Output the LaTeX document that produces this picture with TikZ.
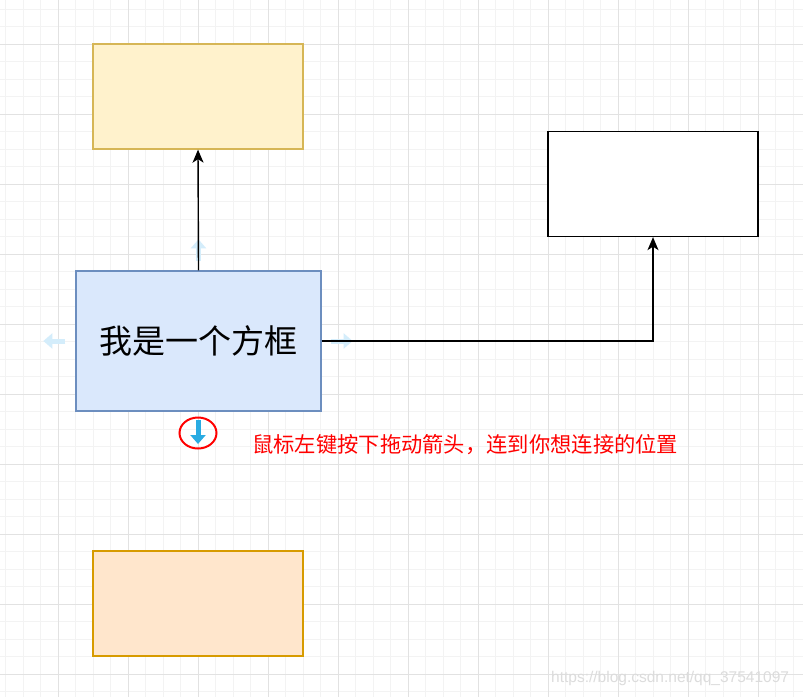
\documentclass[tikz,border=0pt]{standalone}
\usepackage{fontspec}
\usepackage{tikz}
\usetikzlibrary{positioning,calc,arrows.meta,shapes.geometric}
\newfontfamily\cjk{Noto Sans CJK SC}
\newfontfamily\wmfont{Liberation Sans}
\definecolor{GridMinor}{HTML}{F3F3F3}
\definecolor{GridMajor}{HTML}{E2E2E2}
\definecolor{YellowFill}{HTML}{FFF2CC}
\definecolor{YellowLine}{HTML}{D6B656}
\definecolor{BlueFill}{HTML}{DAE8FC}
\definecolor{BlueLine}{HTML}{6C8EBF}
\definecolor{OrangeFill}{HTML}{FFE6CC}
\definecolor{OrangeLine}{HTML}{D79B00}
\definecolor{HintBlue}{HTML}{D4EDFB}
\definecolor{HandleBlue}{HTML}{29ABE2}
\definecolor{Mark}{HTML}{FF0000}
\definecolor{Stamp}{HTML}{DCDCDC}
\tikzset{
	shapebox/.style={line width=1.3pt, inner sep=0pt, minimum width=210pt, minimum height=105pt},
	link/.style={line width=1.4pt, -{Stealth[length=13pt,width=11pt,inset=3.5pt]}},
	hint/.style={HintBlue, line width=5pt, -{Triangle[length=9pt,width=15pt]}}
}

\begin{document}
\begin{tikzpicture}[x=1pt,y=-1pt]
	\useasboundingbox (0,0) rectangle (803,697);
	\fill[white] (0,0) rectangle (803,697);
	% grid
	\foreach \gx in {5.5,23,...,803} \draw[GridMinor, line width=0.8pt] (\gx,0) -- (\gx,697);
	\foreach \gy in {9,26.5,...,697} \draw[GridMinor, line width=0.8pt] (0,\gy) -- (803,\gy);
	\foreach \gx in {58,128,...,803} \draw[GridMajor, line width=0.8pt] (\gx,0) -- (\gx,697);
	\foreach \gy in {44,114,...,697} \draw[GridMajor, line width=0.8pt] (0,\gy) -- (803,\gy);
	
	% boxes
	\node[
	shapebox,
	draw=YellowLine,
	fill=YellowFill
	] (topbox) at (198,96.5) {};
	
	\node[
	shapebox,
	draw=BlueLine,
	fill=BlueFill,
	minimum width=245pt,
	minimum height=140pt
	] (mainbox) at (198.5,341) {\cjk\fontsize{33}{39}\selectfont 我是一个方框};
	
	\node[
	shapebox,
	draw=black,
	fill=white
	] (rightbox) at (653,184) {};
	
	\node[
	shapebox,
	draw=OrangeLine,
	fill=OrangeFill
	] (bottombox) at (198,603.5) {};
	
	% hover arrows
	\coordinate (upfrom) at ($(mainbox.north)+(0,-9)$);
	\coordinate (upto) at ($(mainbox.north)+(0,-31)$);
	\coordinate (leftfrom) at ($(mainbox.west)+(-10,0)$);
	\coordinate (leftto) at ($(mainbox.west)+(-32,0)$);
	\coordinate (rightfrom) at ($(mainbox.east)+(9,0)$);
	\coordinate (rightto) at ($(mainbox.east)+(31,0)$);
	\draw[hint] (upfrom) -- (upto);
	\draw[hint] (leftfrom) -- (leftto);
	\draw[hint] (rightfrom) -- (rightto);
	
	% connectors
	\draw[link] (mainbox.north) -- (topbox.south);
	\draw[link] (mainbox.east) -| (rightbox.south);
	
	% drag handle
	\node[
	ellipse,
	draw=Mark,
	line width=2pt,
	inner sep=0pt,
	minimum width=37pt,
	minimum height=31pt
	] (handle) at (198,433) {};
	\coordinate (handlefrom) at ($(handle.center)+(0,-13)$);
	\coordinate (handleto) at ($(handle.center)+(0,11)$);
	\draw[HandleBlue, line width=5pt, -{Triangle[length=9pt,width=15pt]}] (handlefrom) -- (handleto);
	
	\node[
	anchor=west,
	inner sep=0pt,
	text=Mark
	] (tip) at (252,445) {\cjk\fontsize{21.3}{25}\selectfont 鼠标左键按下拖动箭头，连到你想连接的位置};
	
	\node[
	anchor=west,
	inner sep=0pt,
	text=Stamp
	] (stamp) at (551,678) {\wmfont\fontsize{15.5}{18}\selectfont https://blog.csdn.net/qq\_37541097};
\end{tikzpicture}
\end{document}
